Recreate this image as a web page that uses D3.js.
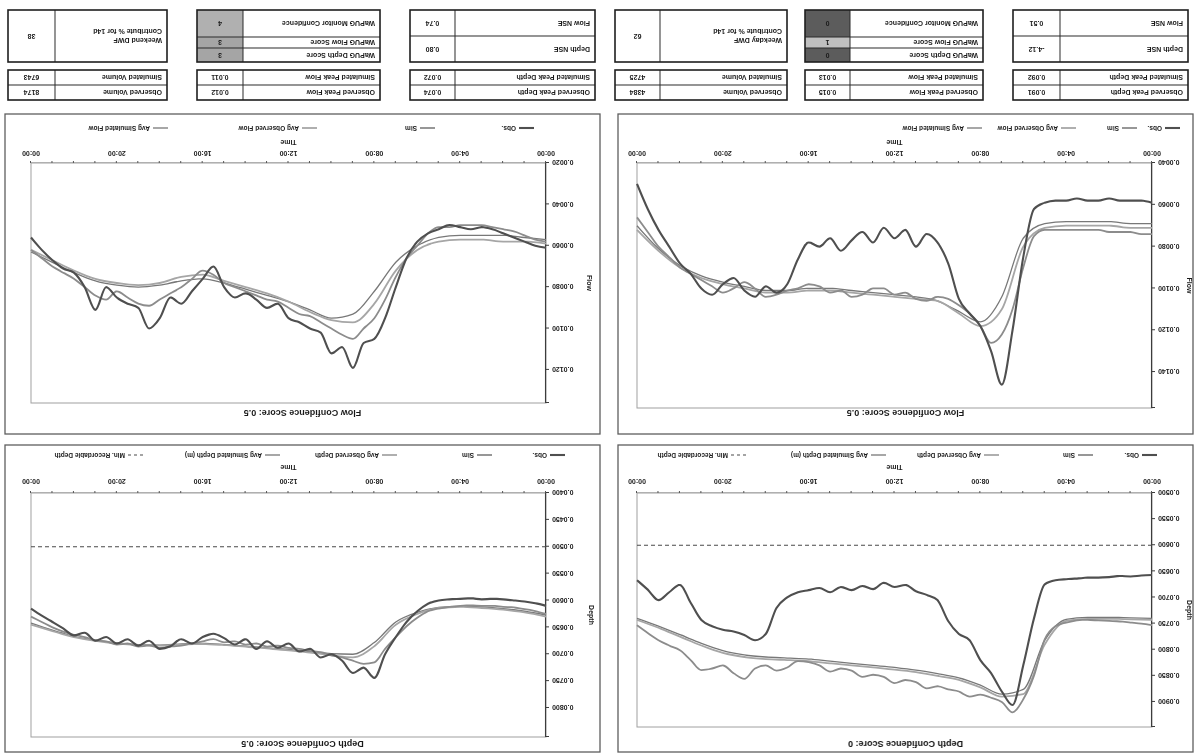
<!DOCTYPE html>
<html>
<head>
<meta charset="utf-8">
<script src="https://cdn.jsdelivr.net/npm/d3@7"></script>
<style>
  html, body { margin: 0; padding: 0; background: #fff; }
  svg { display: block; filter: grayscale(100%); }
  text { font-family: "Liberation Sans", Arial, sans-serif; fill: #1a1a1a; }
</style>
</head>
<body>
<svg id="sheet" width="1194" height="755"></svg>
<script>
// ---- time axis -------------------------------------------------------------
const timeHalfHour = [0,0.5,1,1.5,2,2.5,3,3.5,4,4.5,5,5.5,6,6.5,7,7.5,8,8.5,9,9.5,10,10.5,11,11.5,12,12.5,13,13.5,14,14.5,15,15.5,16,16.5,17,17.5,18,18.5,19,19.5,20,20.5,21,21.5,22,22.5,23,23.5,24];
const timeHourly = [0,1,2,3,4,5,6,7,8,9,10,11,12,13,14,15,16,17,18,19,20,21,22,23,24];
const timeTicks = [0,4,8,12,16,20,24];
const timeTickLabels = ["00:00","04:00","08:00","12:00","16:00","20:00","00:00"];

// ---- axis ticks ------------------------------------------------------------
const flowTicksWeekday  = [0.004,0.006,0.008,0.010,0.012,0.014];
const flowTicksWeekend  = [0.002,0.004,0.006,0.008,0.010,0.012];
const depthTicksWeekday = [0.050,0.055,0.060,0.065,0.070,0.075,0.080,0.085,0.090];
const depthTicksWeekend = [0.040,0.045,0.050,0.055,0.060,0.065,0.070,0.075,0.080];
const depthThresholdWeekday = 0.060;
const depthThresholdWeekend = 0.050;

// ---- weekday flow (half-hourly / hourly) -----------------------------------
const flowObsWeekday = [0.0059,0.0058,0.0058,0.0058,0.0057,0.0058,0.0058,0.0057,0.0058,0.0058,0.0059,0.0062,0.0085,0.0120,0.0146,0.0130,0.0118,0.0112,0.0105,0.0088,0.0078,0.0074,0.0080,0.0072,0.0076,0.0071,0.0078,0.0073,0.0077,0.0082,0.0076,0.0080,0.0078,0.0086,0.0098,0.0102,0.0099,0.0104,0.0101,0.0095,0.0098,0.0103,0.0100,0.0093,0.0088,0.0080,0.0072,0.0062,0.0050];
const flowSimWeekday = [0.0074,0.0074,0.0073,0.0073,0.0073,0.0072,0.0072,0.0072,0.0072,0.0072,0.0072,0.0075,0.0090,0.0110,0.0122,0.0126,0.0118,0.0112,0.0108,0.0105,0.0104,0.0106,0.0105,0.0102,0.0103,0.0100,0.0100,0.0103,0.0104,0.0101,0.0102,0.0099,0.0098,0.0100,0.0101,0.0103,0.0104,0.0100,0.0097,0.0100,0.0102,0.0099,0.0096,0.0093,0.0090,0.0085,0.0080,0.0073,0.0066];
const flowObsAvgWeekday = [0.0071,0.0071,0.0070,0.0070,0.0070,0.0071,0.0080,0.0110,0.0118,0.0112,0.0106,0.0105,0.0104,0.0103,0.0102,0.0101,0.0101,0.0102,0.0102,0.0100,0.0098,0.0095,0.0090,0.0082,0.0072];
const flowSimAvgWeekday = [0.0069,0.0069,0.0068,0.0068,0.0068,0.0069,0.0076,0.0104,0.0116,0.0111,0.0106,0.0104,0.0103,0.0102,0.0101,0.0100,0.0100,0.0101,0.0101,0.0099,0.0097,0.0094,0.0089,0.0081,0.0070];

// ---- weekend flow ----------------------------------------------------------
const flowObsWeekend = [0.0061,0.0060,0.0058,0.0056,0.0054,0.0052,0.0051,0.0052,0.0051,0.0050,0.0052,0.0054,0.0058,0.0066,0.0080,0.0095,0.0105,0.0107,0.0119,0.0109,0.0112,0.0102,0.0100,0.0097,0.0095,0.0088,0.0090,0.0086,0.0083,0.0085,0.0080,0.0070,0.0076,0.0082,0.0088,0.0085,0.0095,0.0100,0.0090,0.0088,0.0085,0.0080,0.0091,0.0080,0.0073,0.0071,0.0067,0.0062,0.0056];
const flowSimWeekend = [0.0058,0.0057,0.0055,0.0053,0.0052,0.0051,0.0050,0.0050,0.0050,0.0051,0.0051,0.0054,0.0060,0.0066,0.0075,0.0086,0.0095,0.0100,0.0105,0.0103,0.0100,0.0097,0.0094,0.0093,0.0090,0.0087,0.0086,0.0084,0.0082,0.0080,0.0078,0.0074,0.0072,0.0076,0.0080,0.0083,0.0086,0.0089,0.0088,0.0085,0.0082,0.0086,0.0084,0.0080,0.0076,0.0073,0.0070,0.0066,0.0062];
const flowObsAvgWeekend = [0.0059,0.0058,0.0058,0.0057,0.0057,0.0058,0.0062,0.0072,0.0088,0.0097,0.0096,0.0092,0.0087,0.0083,0.0080,0.0077,0.0074,0.0075,0.0078,0.0079,0.0078,0.0076,0.0072,0.0067,0.0062];
const flowSimAvgWeekend = [0.0057,0.0056,0.0055,0.0055,0.0055,0.0056,0.0060,0.0068,0.0082,0.0093,0.0095,0.0091,0.0087,0.0084,0.0081,0.0078,0.0076,0.0077,0.0079,0.0080,0.0079,0.0077,0.0073,0.0068,0.0063];

// ---- weekday depth ---------------------------------------------------------
const depthObsWeekday = [0.0657,0.0658,0.0660,0.0659,0.0661,0.0662,0.0662,0.0664,0.0665,0.0667,0.0675,0.0740,0.0830,0.0906,0.0880,0.0845,0.0820,0.0782,0.0770,0.0745,0.0705,0.0695,0.0688,0.0676,0.0680,0.0672,0.0684,0.0678,0.0686,0.0680,0.0690,0.0682,0.0686,0.0690,0.0700,0.0720,0.0770,0.0782,0.0772,0.0765,0.0762,0.0755,0.0743,0.0710,0.0676,0.0690,0.0705,0.0685,0.0667];
const depthSimWeekday = [0.0753,0.0750,0.0748,0.0746,0.0745,0.0744,0.0743,0.0744,0.0748,0.0755,0.0780,0.0850,0.0895,0.0920,0.0900,0.0892,0.0886,0.0890,0.0880,0.0876,0.0870,0.0874,0.0862,0.0858,0.0864,0.0852,0.0848,0.0852,0.0840,0.0836,0.0842,0.0830,0.0824,0.0822,0.0834,0.0840,0.0830,0.0836,0.0856,0.0845,0.0830,0.0836,0.0839,0.0820,0.0801,0.0792,0.0782,0.0768,0.0753];
const depthObsAvgWeekday = [0.0743,0.0742,0.0741,0.0741,0.0745,0.0790,0.0885,0.0890,0.0872,0.0858,0.0850,0.0843,0.0838,0.0834,0.0830,0.0826,0.0822,0.0820,0.0818,0.0814,0.0806,0.0792,0.0775,0.0758,0.0743];
const depthSimAvgWeekday = [0.0740,0.0739,0.0738,0.0738,0.0742,0.0782,0.0876,0.0885,0.0868,0.0854,0.0846,0.0839,0.0834,0.0830,0.0826,0.0822,0.0818,0.0816,0.0814,0.0810,0.0802,0.0788,0.0771,0.0755,0.0740];

// ---- weekend depth ---------------------------------------------------------
const depthObsWeekend = [0.0610,0.0605,0.0602,0.0600,0.0598,0.0597,0.0598,0.0596,0.0597,0.0598,0.0600,0.0606,0.0620,0.0640,0.0668,0.0700,0.0744,0.0725,0.0735,0.0712,0.0700,0.0706,0.0690,0.0695,0.0680,0.0688,0.0676,0.0690,0.0672,0.0682,0.0670,0.0662,0.0668,0.0680,0.0672,0.0685,0.0690,0.0675,0.0684,0.0672,0.0680,0.0668,0.0675,0.0660,0.0665,0.0652,0.0640,0.0628,0.0615];
const depthSimWeekend = [0.0625,0.0620,0.0616,0.0613,0.0612,0.0610,0.0610,0.0609,0.0610,0.0612,0.0615,0.0620,0.0632,0.0648,0.0668,0.0690,0.0715,0.0718,0.0712,0.0706,0.0702,0.0696,0.0694,0.0690,0.0688,0.0684,0.0686,0.0680,0.0682,0.0676,0.0678,0.0672,0.0676,0.0680,0.0684,0.0686,0.0688,0.0684,0.0686,0.0680,0.0682,0.0676,0.0674,0.0668,0.0664,0.0658,0.0650,0.0640,0.0630];
const depthObsAvgWeekend = [0.0630,0.0622,0.0617,0.0614,0.0612,0.0614,0.0625,0.0645,0.0685,0.0706,0.0702,0.0697,0.0693,0.0689,0.0686,0.0683,0.0681,0.0682,0.0684,0.0683,0.0680,0.0675,0.0668,0.0657,0.0645];
const depthSimAvgWeekend = [0.0627,0.0620,0.0615,0.0612,0.0611,0.0613,0.0622,0.0640,0.0678,0.0700,0.0699,0.0695,0.0691,0.0688,0.0685,0.0682,0.0680,0.0681,0.0683,0.0682,0.0679,0.0674,0.0667,0.0655,0.0642];

// ---- summary tables --------------------------------------------------------
const depthConfidence = [0, 0.5];          // weekday, weekend
const flowConfidence  = [0.5, 0.5];
const nseLabels   = ["Depth NSE", "Flow NSE"];
const nseWeekday  = [-4.12, 0.51];
const nseWeekend  = [0.80, 0.74];
const wapugLabels  = ["WaPUG Depth Score", "WaPUG Flow Score", "WaPUG Monitor Confidence"];
const wapugWeekday = [0, 1, 0];
const wapugWeekend = [3, 3, 4];
const peakFlowLabels  = ["Observed Peak Flow", "Simulated Peak Flow"];
const peakDepthLabels = ["Observed Peak Depth", "Simulated Peak Depth"];
const volumeLabels    = ["Observed Volume", "Simulated Volume"];
const volumeWeekday = [4384, 4725];
const volumeWeekend = [8174, 6743];
const dwfShare = [62, 38];                 // weekday, weekend (%)

const flowLegend  = ["Obs.", "Sim", "Avg Observed Flow", "Avg Simulated Flow"];
const depthLegend = ["Obs.", "Sim", "Avg Observed Depth", "Avg Simulated Depth (m)", "Min. Recordable Depth"];

// ---- drawing ---------------------------------------------------------------
const svg = d3.select("#sheet");
// the sheet is laid out upright and then turned half a revolution
const page = svg.append("g").attr("transform", "rotate(180,597,377.5)");

const seriesStyle = [
  { stroke: "#4f4f4f", width: 2.1 },
  { stroke: "#8c8c8c", width: 1.8 },
  { stroke: "#a6a6a6", width: 1.8 },
  { stroke: "#787878", width: 1.3 }
];

const panels = [
  { box: [1, 3, 575, 307], plot: [42, 28, 515, 234], yTop: 0.0948, ticks: depthTicksWeekday,
    yTitle: "Depth", yTitleX: 5, title: `Depth Confidence Score: ${depthConfidence[0]}`, titleY: 11,
    halfHour: [depthObsWeekday, depthSimWeekday], hourly: [depthObsAvgWeekday, depthSimAvgWeekday],
    threshold: depthThresholdWeekday, legend: depthLegend, legendX: [36, 100, 194, 307, 447], legendY: 300, timeY: 288, tickY: 274 },
  { box: [594, 3, 595, 307], plot: [648, 18, 515, 244], yTop: 0.0854, ticks: depthTicksWeekend,
    yTitle: "Depth", yTitleX: 603, title: `Depth Confidence Score: ${depthConfidence[1]}`, titleY: 11,
    halfHour: [depthObsWeekend, depthSimWeekend], hourly: [depthObsAvgWeekend, depthSimAvgWeekend],
    threshold: depthThresholdWeekend, legend: depthLegend, legendX: [35, 108, 203, 320, 457], legendY: 300, timeY: 288, tickY: 274 },
  { box: [1, 321, 575, 320], plot: [42, 347, 515, 245], yTop: 0.01572, ticks: flowTicksWeekday,
    yTitle: "Flow", yTitleX: 5, title: `Flow Confidence Score: ${flowConfidence[0]}`, titleY: 342,
    halfHour: [flowObsWeekday, flowSimWeekday], hourly: [flowObsAvgWeekday, flowSimAvgWeekday],
    threshold: null, legend: flowLegend, legendX: [13, 56, 117, 211], legendY: 627, timeY: 613, tickY: 602 },
  { box: [594, 321, 595, 320], plot: [648, 352, 515, 240], yTop: 0.0136, ticks: flowTicksWeekend,
    yTitle: "Flow", yTitleX: 605, title: `Flow Confidence Score: ${flowConfidence[1]}`, titleY: 342,
    halfHour: [flowObsWeekend, flowSimWeekend], hourly: [flowObsAvgWeekend, flowSimAvgWeekend],
    threshold: null, legend: flowLegend, legendX: [66, 165, 283, 432], legendY: 627, timeY: 613, tickY: 602 }
];

panels.forEach(p => {
  const g = page.append("g");
  const [bx, by, bw, bh] = p.box;
  const [px, py, pw, ph] = p.plot;

  g.append("rect").attr("x", bx).attr("y", by).attr("width", bw).attr("height", bh)
    .attr("fill", "#fff").attr("stroke", "#5e5e5e").attr("stroke-width", 1.3);

  g.append("text").attr("x", bx + bw / 2).attr("y", p.titleY).attr("dy", "0.35em")
    .attr("text-anchor", "middle").attr("font-size", 9).attr("font-weight", "bold").text(p.title);

  const x = d3.scaleLinear().domain([0, 24]).range([px, px + pw]);
  const y = d3.scaleLinear().domain([p.ticks[0], p.yTop]).range([py + ph, py]);

  // plot frame
  g.append("rect").attr("x", px).attr("y", py).attr("width", pw).attr("height", ph)
    .attr("fill", "none").attr("stroke", "#a0a0a0").attr("stroke-width", 1);

  // value axis
  const yAxis = d3.axisLeft(y).tickValues(p.ticks).tickSize(3).tickPadding(3).tickFormat(d3.format(".4f"));
  const ya = g.append("g").attr("transform", `translate(${px},0)`).call(yAxis);
  ya.select(".domain").attr("stroke", "#3c3c3c").attr("stroke-width", 1.1);
  ya.selectAll(".tick line").attr("stroke", "#3c3c3c");
  ya.selectAll(".tick text").attr("font-size", 7).attr("font-weight", "bold").attr("fill", "#1a1a1a")
    .attr("font-family", "Liberation Sans, Arial, sans-serif");

  g.append("text").attr("transform", `translate(${p.yTitleX},${py + ph / 2}) rotate(-90)`)
    .attr("text-anchor", "middle").attr("dy", "0.35em").attr("font-size", 7).attr("font-weight", "bold").text(p.yTitle);

  // time axis: hourly minor marks, labels every four hours
  const xAxis = d3.axisBottom(x).tickValues(timeHourly).tickSize(2).tickFormat("");
  const xa = g.append("g").attr("transform", `translate(0,${py + ph})`).call(xAxis);
  xa.select(".domain").attr("stroke", "#b0b0b0");
  xa.selectAll(".tick line").attr("stroke", "#555");
  g.selectAll(null).data(timeTicks).join("text")
    .attr("x", d => x(d)).attr("y", p.tickY).attr("dy", "0.35em").attr("text-anchor", "middle")
    .attr("font-size", 7).attr("font-weight", "bold").text((d, i) => timeTickLabels[i]);
  g.append("text").attr("x", px + pw / 2).attr("y", p.timeY).attr("dy", "0.35em")
    .attr("text-anchor", "middle").attr("font-size", 7).attr("font-weight", "bold").text("Time");

  // threshold
  if (p.threshold !== null) {
    g.append("line").attr("x1", px).attr("x2", px + pw).attr("y1", y(p.threshold)).attr("y2", y(p.threshold))
      .attr("stroke", "#4a4a4a").attr("stroke-width", 1.2).attr("stroke-dasharray", "4,3");
  }

  const lineGen = times => d3.line().x((d, i) => x(times[i])).y(d => y(d)).curve(d3.curveMonotoneX);

  // smooth averages underneath, then the detailed series on top
  [p.hourly[1], p.hourly[0]].forEach((vals, k) => {
    const st = seriesStyle[k === 0 ? 3 : 2];
    g.append("path").attr("d", lineGen(timeHourly)(vals)).attr("fill", "none")
      .attr("stroke", st.stroke).attr("stroke-width", st.width).attr("stroke-linejoin", "round");
  });
  [p.halfHour[1], p.halfHour[0]].forEach((vals, k) => {
    const st = seriesStyle[k === 0 ? 1 : 0];
    g.append("path").attr("d", lineGen(timeHalfHour)(vals)).attr("fill", "none")
      .attr("stroke", st.stroke).attr("stroke-width", st.width).attr("stroke-linejoin", "round");
  });

  // legend
  p.legend.forEach((label, i) => {
    const lx = bx + p.legendX[i];
    const dashed = i === 4;
    const st = dashed ? { stroke: "#4a4a4a", width: 1.2 } : seriesStyle[i];
    g.append("line").attr("x1", lx).attr("x2", lx + 15).attr("y1", p.legendY).attr("y2", p.legendY)
      .attr("stroke", st.stroke).attr("stroke-width", st.width)
      .attr("stroke-dasharray", dashed ? "3,3" : null);
    g.append("text").attr("x", lx + 18).attr("y", p.legendY).attr("dy", "0.35em")
      .attr("font-size", 6.5).attr("font-weight", "bold").text(label);
  });
});

// ---- tables ----------------------------------------------------------------
const scoreFill = d3.scaleOrdinal().domain([0, 1, 2, 3, 4]).range(["#5c5c5c", "#c0c0c0", "#b4b4b4", "#a5a5a5", "#b0b0b0"]);

function drawTable(x, y, w, valueW, rows) {
  const g = page.append("g");
  let cy = y;
  rows.forEach((r, i) => {
    if (r.fill) {
      g.append("rect").attr("x", x + w - valueW).attr("y", cy).attr("width", valueW).attr("height", r.h).attr("fill", r.fill);
    }
    r.label.forEach((t, j) => {
      g.append("text").attr("x", x + 5).attr("y", cy + r.h / 2 + (j - (r.label.length - 1) / 2) * 9)
        .attr("dy", "0.35em").attr("font-size", 7).attr("font-weight", "bold").text(t);
    });
    g.append("text").attr("x", x + w - valueW / 2).attr("y", cy + r.h / 2).attr("dy", "0.35em")
      .attr("text-anchor", "middle").attr("font-size", 7).attr("font-weight", "bold").text(r.value);
    if (i > 0) {
      g.append("line").attr("x1", x).attr("x2", x + w).attr("y1", cy).attr("y2", cy)
        .attr("stroke", "#2a2a2a").attr("stroke-width", 1);
    }
    cy += r.h;
  });
  g.append("line").attr("x1", x + w - valueW).attr("x2", x + w - valueW).attr("y1", y).attr("y2", cy)
    .attr("stroke", "#2a2a2a").attr("stroke-width", 1);
  g.append("rect").attr("x", x).attr("y", y).attr("width", w).attr("height", cy - y)
    .attr("fill", "none").attr("stroke", "#1f1f1f").attr("stroke-width", 1.6);
}

const fmt3 = d3.format(".3f");
const topY = 655, rowH = 15, lowY = 693, lowH = 52;

// weekday: depth and flow statistics
drawTable(6, topY, 175, 47, peakDepthLabels.map((l, i) => ({ label: [l], h: rowH,
  value: fmt3(d3.max(i === 0 ? depthObsWeekday : depthSimWeekday)) })));
drawTable(6, lowY, 175, 47, nseLabels.map((l, i) => ({ label: [l], h: lowH / 2, value: nseWeekday[i].toFixed(2) })));

drawTable(211, topY, 178, 45, peakFlowLabels.map((l, i) => ({ label: [l], h: rowH,
  value: fmt3(d3.max(i === 0 ? flowObsWeekday : flowSimWeekday)) })));
drawTable(211, lowY, 178, 45, wapugLabels.map((l, i) => ({ label: [l], h: [14, 11, 27][i],
  value: wapugWeekday[i], fill: scoreFill(wapugWeekday[i]) })));

drawTable(407, topY, 172, 45, volumeLabels.map((l, i) => ({ label: [l], h: rowH, value: volumeWeekday[i] })));
drawTable(407, lowY, 172, 45, [{ label: ["Weekday DWF", "Contribute % for 14d"], h: lowH, value: dwfShare[0] }]);

// weekend: depth and flow statistics
drawTable(599, topY, 185, 45, peakDepthLabels.map((l, i) => ({ label: [l], h: rowH,
  value: fmt3(d3.max(i === 0 ? depthObsWeekend : depthSimWeekend)) })));
drawTable(599, lowY, 185, 45, nseLabels.map((l, i) => ({ label: [l], h: lowH / 2, value: nseWeekend[i].toFixed(2) })));

drawTable(814, topY, 183, 46, peakFlowLabels.map((l, i) => ({ label: [l], h: rowH,
  value: fmt3(d3.max(i === 0 ? flowObsWeekend : flowSimWeekend)) })));
drawTable(814, lowY, 183, 46, wapugLabels.map((l, i) => ({ label: [l], h: [14, 11, 27][i],
  value: wapugWeekend[i], fill: scoreFill(wapugWeekend[i]) })));

drawTable(1027, topY, 159, 47, volumeLabels.map((l, i) => ({ label: [l], h: rowH, value: volumeWeekend[i] })));
drawTable(1027, lowY, 159, 47, [{ label: ["Weekend DWF", "Contribute % for 14d"], h: lowH, value: dwfShare[1] }]);
</script>
</body>
</html>
